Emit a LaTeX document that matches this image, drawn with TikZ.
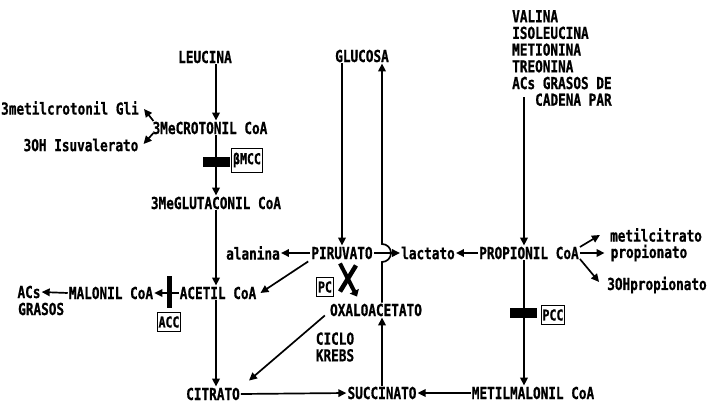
\documentclass[tikz,border=0pt]{standalone}
\usepackage{fontspec}
\newfontfamily\df{DejaVu Sans Mono}[FakeStretch=0.77,FakeBold=0.8]
\usetikzlibrary{arrows.meta,calc}
\begin{document}
\begin{tikzpicture}[x=1pt,y=-1pt,
  lbl/.style={font=\df\bfseries\fontsize{16.5}{16.7}\selectfont, inner sep=1pt},
  arr/.style={line width=1.7pt,-{Triangle[length=8pt,width=7.5pt]}},
  enz/.style={draw,line width=1pt,font=\df\bfseries\fontsize{15}{15}\selectfont,inner sep=1.5pt,minimum height=19pt},
  blk/.style={fill=black,minimum width=27pt,minimum height=10pt,inner sep=0pt},
  vbar/.style={fill=black,minimum width=5pt,minimum height=32pt,inner sep=0pt},
  block/.style={line width=4.5pt}]
\useasboundingbox[fill=white] (0,0) rectangle (712,404);
% columns
\coordinate (c1) at (216,0);
\coordinate (c2) at (342,0);
\coordinate (c3) at (382,0);
\coordinate (c4) at (524,0);
% nodes
\node[lbl] (leu) at (205,57) {LEUCINA};
\node[lbl] (glu) at (362,56) {GLUCOSA};
\node[lbl,align=left,anchor=north west,inner sep=0pt] (src) at (512,10)
  {VALINA\\ISOLEUCINA\\METIONINA\\TREONINA\\ACs GRASOS DE\\\hspace*{23pt}CADENA PAR};
\coordinate (vt) at (524,97);
\node[lbl] (mcg) at (70,108) {3metilcrotonil Gli};
\node[lbl] (crot) at (210,128) {3MeCROTONIL CoA};
\node[lbl] (isov) at (81,145) {3OH Isuvalerato};
\node[blk] (b1) at (216,162) {};
\node[enz,minimum height=24pt] (e1) at (247,160) {βMCC};
\node[lbl] (glut) at (216,203) {3MeGLUTACONIL CoA};
\node[lbl] (alan) at (253,253) {alanina};
\node[lbl] (piru) at (342,253) {PIRUVATO};
\node[lbl] (lac) at (428,253) {lactato};
\node[lbl] (prop) at (529,253) {PROPIONIL CoA};
\node[lbl] (metc) at (656,235) {metilcitrato};
\node[lbl] (propn) at (649,253) {propionato};
\node[lbl] (ohp) at (657,285) {3OHpropionato};
\node[lbl] (acs) at (29,292) {ACs};
\node[lbl,anchor=west] (gras) at (17,309) {GRASOS};
\node[lbl] (mal) at (111,293) {MALONIL CoA};
\node[lbl] (acet) at (218,293) {ACETIL CoA};
\node[vbar] (b3) at (169,292) {};
\node[enz] (acc) at (169,322) {ACC};
\node[enz] (pc) at (325,287) {PC};
\node[lbl] (oxa) at (376,310) {OXALOACETATO};
\node[blk] (b2) at (523,313) {};
\node[enz] (pcc) at (553,315) {PCC};
\node[lbl,align=left] (krebs) at (335,347) {CICLO\\KREBS};
\node[lbl] (cit) at (213,394) {CITRATO};
\node[lbl] (succ) at (382,393) {SUCCINATO};
\node[lbl] (mmal) at (533,393) {METILMALONIL CoA};
% connectors
\draw[arr] (leu.south -| c1) -- (crot.north -| c1);
\draw[arr] ($(crot.west)+(2,-7)$) -- ($(mcg.east)+(4,1)$);
\draw[arr] ($(crot.west)+(2,5)$) -- ($(isov.east)+(4,-1)$);
\draw[arr] (crot.south -| c1) -- (glut.north -| c1);
\draw[arr] (glut.south -| c1) -- (acet.north -| c1);
\draw[arr] (acet.south -| c1) -- (cit.north -| c1);
\draw[arr] (glu.south -| c2) -- (piru.north -| c2);
\draw[arr] (piru.west) -- (alan.east);
\draw[arr] ($(piru.south west)+(-2,1)$) -- ($(acet.east)+(3,0)$);
\draw[arr] (piru.east) -- (lac.west);
\draw[arr] (prop.west) -- (lac.east);
\draw[arr] (vt) -- (prop.north -| c4);
\draw[arr] (prop.south -| c4) -- (mmal.north -| c4);
\draw[arr] ($(prop.east)+(0,-6)$) -- ($(metc.west)+(-9,0)$);
\draw[arr] (prop.east) -- ($(propn.west)+(-5,0)$);
\draw[arr] ($(prop.east)+(0,6)$) -- ($(ohp.west)+(-7,-3)$);
\draw[arr] (mmal.west) -- (succ.east);
\draw[arr] (cit.east) -- (succ.west);
\draw[arr] (succ.north -| c3) -- (oxa.south -| c3);
\draw[arr] (oxa.north -| c3) -- (382,262) arc[start angle=90,end angle=-90,radius=9] -- (glu.south -| c3);
\draw[arr] ($(oxa.south west)+(-4,-2)$) -- ($(cit.north east)+(8,-6)$);
\draw[arr] (acet.west) -- (mal.east);
\draw[arr] (mal.west) -- (acs.east);
\draw[line width=4pt,-{Triangle[length=6pt,width=10pt]}] ($(piru.south)+(-2,3)$) -- ($(oxa.north)+(-19,-6)$);
\draw[block] ($(piru.south)+(14,5)$) -- ($(oxa.north)+(-36,-11)$);
\end{tikzpicture}
\end{document}
